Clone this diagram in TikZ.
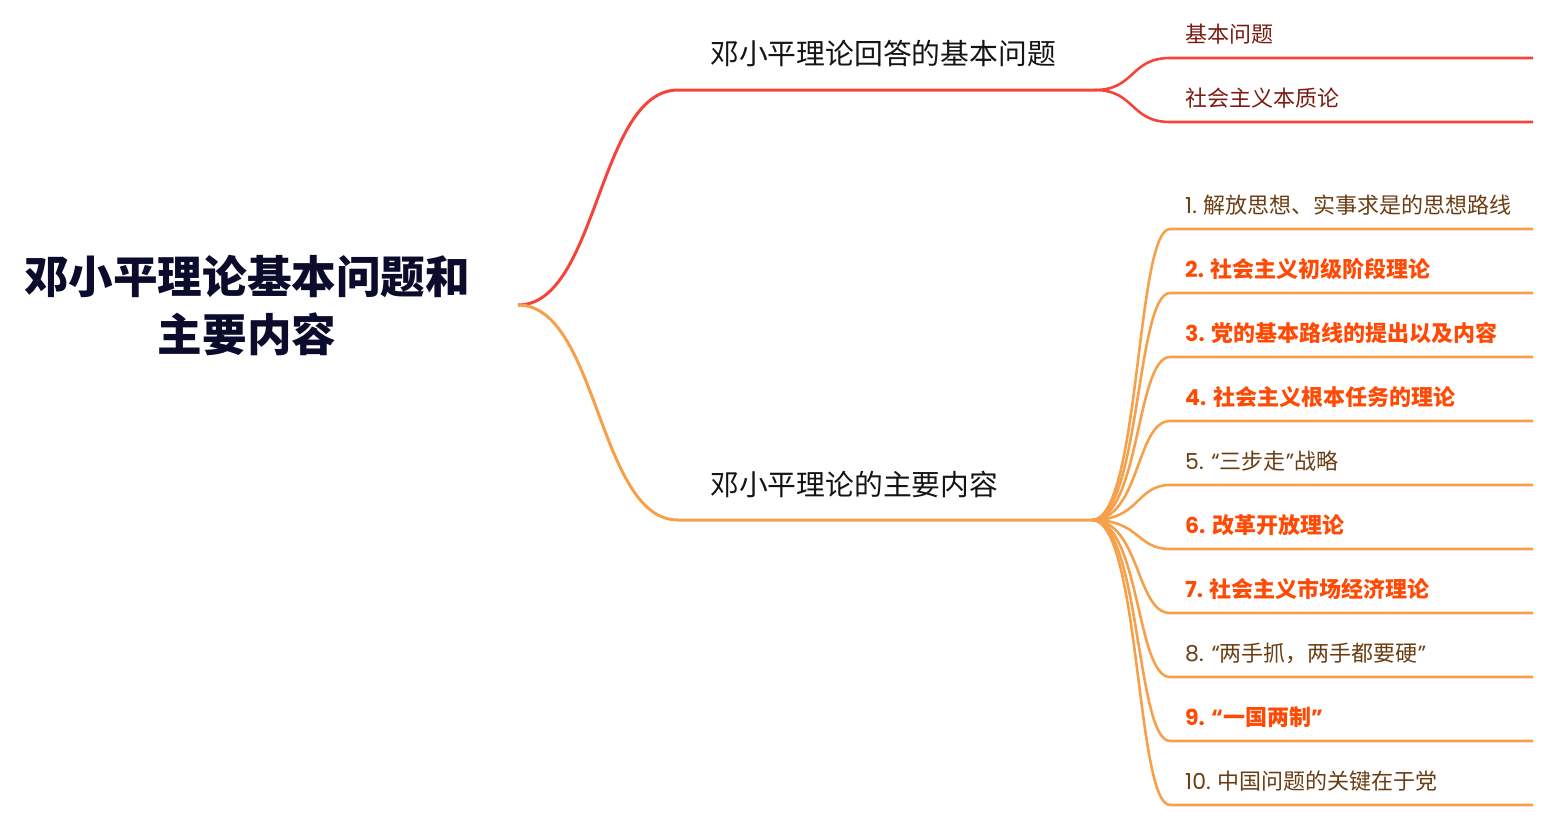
\documentclass[tikz,border=0pt]{standalone}
\usepackage{fontspec}
\setmainfont{Noto Sans CJK SC}
\newfontfamily\latf{Poppins}
\newcommand\pn[1]{{\latf #1}}
\definecolor{redline}{HTML}{F5453B}
\definecolor{orline}{HTML}{F7A04B}
\definecolor{darkred}{HTML}{7A1A12}
\definecolor{brownt}{HTML}{6B3D12}
\definecolor{hotor}{HTML}{FF4A05}
\definecolor{titlec}{HTML}{0B0B2B}
\tikzset{
  titletext/.style={font=\bfseries\fontsize{44.6}{58}\selectfont, text=titlec, align=center, inner sep=0pt},
  btext/.style={font=\fontsize{28.8}{32}\selectfont, text=black!92, anchor=base west, inner sep=0pt},
  rleaf/.style={font=\fontsize{22}{26}\selectfont, text=darkred, anchor=base west, inner sep=0pt},
  bleaf/.style={font=\fontsize{22}{26}\selectfont, text=brownt, anchor=base west, inner sep=0pt},
  hleaf/.style={font=\bfseries\fontsize{22}{26}\selectfont, text=hotor, anchor=base west, inner sep=0pt},
  redbranch/.style={draw=redline, line width=3pt},
  orbranch/.style={draw=orline, line width=3pt},
  redleafline/.style={draw=redline, line width=2.6pt},
  orleafline/.style={draw=orline, line width=2.6pt},
}
\begin{document}
\begin{tikzpicture}[x=1pt,y=-1pt]
\useasboundingbox (0,0) rectangle (1555,820);
% root
\node[titletext] (root) at (247,306) {邓小平理论基本问题和\\主要内容};
\coordinate (R) at (518,305);
% branch 1
\coordinate (b1s) at (678,90);
\coordinate (b1e) at (1095,90);
\node[btext] (b1) at (710,64) {邓小平理论回答的基本问题};
\path[redbranch] (R) .. controls (598,305) and (598,90) .. (b1s) -- (b1e);
% branch 2
\coordinate (b2s) at (678,520);
\coordinate (b2e) at (1092,520);
\node[btext] (b2) at (710,495) {邓小平理论的主要内容};
\path[orbranch] (R) .. controls (598,305) and (598,520) .. (b2s) -- (b2e);
% red leaves
\coordinate (r1s) at (1170,58); \coordinate (r1e) at (1533,58);
\coordinate (r2s) at (1170,122); \coordinate (r2e) at (1533,122);
\node[rleaf] (r1) at (1185,42) {基本问题};
\node[rleaf] (r2) at (1185,106) {社会主义本质论};
\path[redleafline] (b1e) .. controls (1135,90) and (1130,58) .. (r1s) -- (r1e);
\path[redleafline] (b1e) .. controls (1135,90) and (1130,122) .. (r2s) -- (r2e);
% orange leaves
\foreach \i/\y in {1/229,2/293,3/357,4/421,5/485,6/549,7/613,8/677,9/741,10/805}{
  \coordinate (o\i s) at (1170,\y);
  \coordinate (o\i e) at (1533,\y);
  \path[orleafline] (b2e) .. controls (1140,520) and (1136,\y) .. (o\i s) -- (o\i e);
}
\node[bleaf] (t1) at (1185,213) {\pn{1.} 解放思想、实事求是的思想路线};
\node[hleaf] (t2) at (1185,277) {\pn{2.} 社会主义初级阶段理论};
\node[hleaf] (t3) at (1185,341) {\pn{3.} 党的基本路线的提出以及内容};
\node[hleaf] (t4) at (1185,405) {\pn{4.} 社会主义根本任务的理论};
\node[bleaf] (t5) at (1185,469) {\pn{5. “}三步走\pn{”}战略};
\node[hleaf] (t6) at (1185,533) {\pn{6.} 改革开放理论};
\node[hleaf] (t7) at (1185,597) {\pn{7.} 社会主义市场经济理论};
\node[bleaf] (t8) at (1185,661) {\pn{8. “}两手抓，两手都要硬\pn{”}};
\node[hleaf] (t9) at (1185,725) {\pn{9. “}一国两制\pn{”}};
\node[bleaf] (t10) at (1185,789) {\pn{10.} 中国问题的关键在于党};
\end{tikzpicture}
\end{document}
